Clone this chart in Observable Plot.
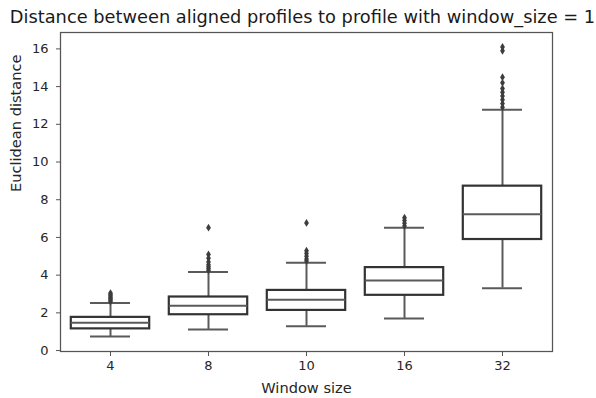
<!DOCTYPE html>
<html>
<head>
<meta charset="utf-8">
<script src="https://cdn.jsdelivr.net/npm/d3@7"></script>
<script src="https://cdn.jsdelivr.net/npm/@observablehq/plot@0.6"></script>
<style>
  html, body { margin: 0; padding: 0; background: #fff; }
  svg { display: block; }
</style>
</head>
<body>
<div id="chart"></div>
<script>
const titleText = "Distance between aligned profiles to profile with window_size = 1";
const xLabel = "Window size";
const yLabel = "Euclidean distance";
const categories = ["4", "8", "10", "16", "32"];
const q1 = [1.15, 1.90, 2.13, 2.93, 5.89];
const median = [1.47, 2.38, 2.70, 3.72, 7.23];
const q3 = [1.76, 2.84, 3.19, 4.40, 8.72];
const whiskerLow = [0.74, 1.12, 1.29, 1.70, 3.31];
const whiskerHigh = [2.52, 4.17, 4.66, 6.51, 12.77];
const outliers4 = [2.6, 2.68, 2.75, 2.82, 2.9, 2.97, 3.05];
const outliers8 = [4.25, 4.35, 4.45, 4.55, 4.7, 4.9, 5.1, 6.52];
const outliers10 = [4.75, 4.85, 5.0, 5.15, 5.3, 6.77];
const outliers16 = [6.6, 6.75, 6.9, 7.05];
const outliers32 = [12.9, 13.1, 13.3, 13.5, 13.7, 13.9, 14.2, 14.5, 15.9, 16.1];
const yTicks = [0, 2, 4, 6, 8, 10, 12, 14, 16];

const boxes = categories.map((c, i) => ({
  cat: c, q1: q1[i], med: median[i], q3: q3[i], lo: whiskerLow[i], hi: whiskerHigh[i]
}));
const outlierLists = [outliers4, outliers8, outliers10, outliers16, outliers32];
const fliers = outlierLists.flatMap((arr, i) => arr.map(v => ({cat: categories[i], v})));

const thinDiamond = {
  draw(context, size) {
    const r = Math.sqrt(size / Math.PI);
    const h = r * 1.3, w = r * 0.8;
    context.moveTo(0, -h);
    context.lineTo(w, 0);
    context.lineTo(0, h);
    context.lineTo(-w, 0);
    context.closePath();
  }
};

const font = "DejaVu Sans, sans-serif";
const boxInset = 9.8;
const capInset = 29;

const chart = Plot.plot({
  width: 596,
  height: 398,
  marginLeft: 60,
  marginRight: 44,
  marginTop: 32,
  marginBottom: 47,
  style: {fontFamily: font, fontSize: "13px", color: "#262626", background: "#fff"},
  x: {type: "band", domain: categories, padding: 0},
  y: {domain: [-0.05, 16.87]},
  marks: [
    Plot.ruleX(boxes, {x: "cat", y1: "q3", y2: "hi", stroke: "#5a5a5a", strokeWidth: 2}),
    Plot.ruleX(boxes, {x: "cat", y1: "lo", y2: "q1", stroke: "#5a5a5a", strokeWidth: 2}),
    Plot.tickY(boxes, {x: "cat", y: "hi", stroke: "#5a5a5a", strokeWidth: 2, insetLeft: capInset, insetRight: capInset}),
    Plot.tickY(boxes, {x: "cat", y: "lo", stroke: "#5a5a5a", strokeWidth: 2, insetLeft: capInset, insetRight: capInset}),
    Plot.rect(boxes, {x: "cat", y1: "q1", y2: "q3", fill: "#fff", stroke: "#333", strokeWidth: 2.2, insetLeft: boxInset, insetRight: boxInset}),
    Plot.tickY(boxes, {x: "cat", y: "med", stroke: "#5a5a5a", strokeWidth: 2, insetLeft: boxInset, insetRight: boxInset}),
    Plot.dot(fliers, {x: "cat", y: "v", symbol: thinDiamond, r: 3, fill: "#3d3d3d", stroke: "none"}),
    Plot.frame({stroke: "#555", strokeWidth: 1.25}),
    Plot.axisY({ticks: yTicks, tickSize: 4, tickPadding: 8, fontSize: 13, label: null, stroke: "#555"}),
    Plot.axisX({tickSize: 5, tickPadding: 4, fontSize: 13, label: null, stroke: "#555"}),
    Plot.text([yLabel], {frameAnchor: "left", dx: -44, rotate: -90, fontSize: 14.6, fill: "#262626"}),
    Plot.text([xLabel], {frameAnchor: "bottom", dy: 41, fontSize: 14.6, fill: "#262626"}),
    Plot.text([titleText], {frameAnchor: "top", lineAnchor: "bottom", dy: -10, dx: -4, fontSize: 17.8, fill: "#1a1a1a"})
  ]
});
document.getElementById("chart").appendChild(chart);
</script>
</body>
</html>
